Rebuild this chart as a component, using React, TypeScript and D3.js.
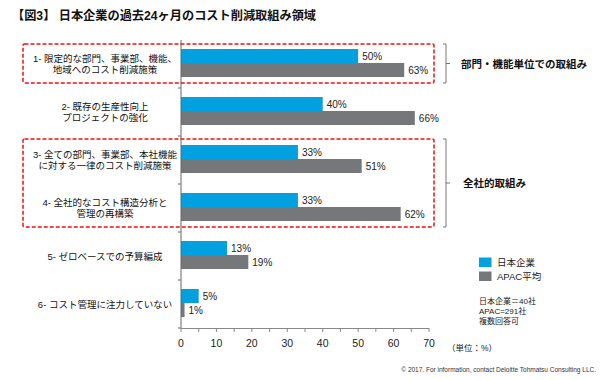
import React from "react";
import * as d3 from "d3";

const categories = ["c1", "c2", "c3", "c4", "c5", "c6"];
const categoryLabels: string[][] = [
  ["1- 限定的な部門、事業部、機能、", "地域へのコスト削減施策"],
  ["2- 既存の生産性向上", "プロジェクトの強化"],
  ["3- 全ての部門、事業部、本社機能", "に対する一律のコスト削減施策"],
  ["4- 全社的なコスト構造分析と", "管理の再構築"],
  ["5- ゼロベースでの予算編成"],
  ["6- コスト管理に注力していない"],
];
const japanValues = [50, 40, 33, 33, 13, 5];
const apacValues = [63, 66, 51, 62, 19, 1];
const seriesNames = ["日本企業", "APAC平均"];
const xTicks = [0, 10, 20, 30, 40, 50, 60, 70];
const groupLabels = ["部門・機能単位での取組み", "全社的取組み"];
const notes = ["日本企業＝40社", "APAC=291社", "複数回答可"];

const FONT = "'Liberation Sans', Arial, 'Noto Sans CJK JP', sans-serif";
const BLUE = "#00a1de";
const GRAY = "#75787b";

export default function App() {
  const W = 608, H = 380;
  const x = d3.scaleLinear().domain([0, 70]).range([181, 429]);
  const y = d3.scaleBand().domain(categories).range([40, 328]);
  const sub = d3.scaleBand().domain(["jp", "apac"]).range([9, 37]);
  const minorTicks = d3.range(0, 71, 5);

  const boxes = [
    { top: (y("c1") as number) + 4, bottom: (y("c1") as number) + y.bandwidth() - 5 },
    { top: (y("c3") as number) + 3, bottom: (y("c4") as number) + y.bandwidth() - 5 },
  ];

  return (
    <svg width={W} height={H} style={{ position: "absolute", left: 0, top: 0, fontFamily: FONT }}>
      <rect width={W} height={H} fill="#fff" />
      <text x={12} y={19.5} fontSize={12.2} fontWeight="bold" fill="#111">
        【図3】 日本企業の過去24ヶ月のコスト削減取組み領域
      </text>

      {/* bars */}
      {categories.map((c, i) => {
        const y0 = y(c) as number;
        const yj = y0 + (sub("jp") as number);
        const ya = y0 + (sub("apac") as number);
        const bh = sub.bandwidth();
        return (
          <g key={c}>
            <rect x={x(0)} y={yj} width={x(japanValues[i]) - x(0)} height={bh} fill={BLUE} />
            <rect x={x(0)} y={ya} width={x(apacValues[i]) - x(0)} height={bh} fill={GRAY} />
            <text x={x(japanValues[i]) + 4} y={yj + bh / 2 + 3.5} fontSize={10} fill="#222">
              {japanValues[i]}%
            </text>
            <text x={x(apacValues[i]) + 4} y={ya + bh / 2 + 3.5} fontSize={10} fill="#222">
              {apacValues[i]}%
            </text>
            {categoryLabels[i].map((line, k) => {
              const n = categoryLabels[i].length;
              const cy = y0 + y.bandwidth() / 2 + (k - (n - 1) / 2) * 11.5;
              return (
                <text key={k} x={105} y={cy + 3.5} fontSize={9.5} textAnchor="middle" fill="#111">
                  {line}
                </text>
              );
            })}
          </g>
        );
      })}

      {/* y axis */}
      <line x1={x(0)} x2={x(0)} y1={40} y2={328} stroke="#666" strokeWidth={1} />
      {categories.map((c) => (
        <line key={c} x1={x(0) - 3} x2={x(0)} y1={(y(c) as number) + y.bandwidth()} y2={(y(c) as number) + y.bandwidth()} stroke="#666" />
      ))}
      {/* x axis */}
      <line x1={x(0)} x2={x(70)} y1={328.5} y2={328.5} stroke="#888" strokeWidth={1} />
      {minorTicks.map((t) => (
        <line key={t} x1={x(t)} x2={x(t)} y1={328} y2={332} stroke="#888" />
      ))}
      {xTicks.map((t) => (
        <text key={t} x={x(t)} y={347} fontSize={10.5} textAnchor="middle" fill="#222">
          {t}
        </text>
      ))}

      {/* red dashed boxes */}
      {boxes.map((b, i) => (
        <rect key={i} x={23} y={b.top} width={434 - 23} height={b.bottom - b.top} fill="none"
          stroke="#ee1111" strokeWidth={1.5} strokeDasharray="4,2" rx={1.5} />
      ))}

      {/* brackets */}
      {boxes.map((b, i) => {
        const mid = (b.top + b.bottom) / 2;
        return (
          <g key={i}>
            <path d={`M443,${b.top}H446V${b.bottom}H443`} fill="none" stroke="#555" strokeWidth={0.8} />
            <line x1={446} x2={450} y1={mid} y2={mid} stroke="#555" strokeWidth={0.8} />
            <text x={i === 0 ? 461 : 463} y={mid + 4} fontSize={10.5} fontWeight="bold" fill="#111">
              {groupLabels[i]}
            </text>
          </g>
        );
      })}

      {/* legend */}
      <rect x={479} y={257.5} width={12.5} height={9.5} fill={BLUE} />
      <text x={497} y={266} fontSize={9.5} fill="#222">{seriesNames[0]}</text>
      <rect x={479} y={271.5} width={12.5} height={9.5} fill={GRAY} />
      <text x={497} y={280} fontSize={9.5} fill="#222">{seriesNames[1]}</text>

      {notes.map((n, i) => (
        <text key={i} x={479} y={304 + i * 10} fontSize={8} fill="#222">{n}</text>
      ))}

      <text x={447} y={350.5} fontSize={8.5} fill="#222">（単位：%）</text>
      <text x={596} y={372} fontSize={6.5} textAnchor="end" fill="#333">
        © 2017. For information, contact Deloitte Tohmatsu Consulting LLC.
      </text>
    </svg>
  );
}
